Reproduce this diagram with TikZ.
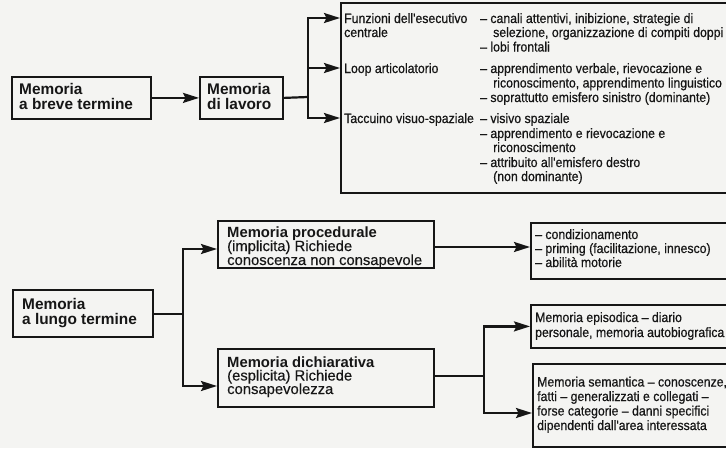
\documentclass[tikz,border=0pt]{standalone}
\usepackage{fontspec}
\setmainfont{Liberation Sans}
\newfontfamily\narrowfont[FakeStretch=0.91,FakeBold=0.6]{Liberation Sans}
\newfontfamily\plainfont[FakeBold=0.3]{Liberation Sans}
\usetikzlibrary{arrows.meta}

\definecolor{paper}{RGB}{244,244,242}
\definecolor{ink}{RGB}{22,22,22}

\tikzset{
  box/.style={draw=ink, line width=1.8pt, inner sep=0pt, anchor=north west},
  conn/.style={draw=ink, line width=2.2pt},
  arr/.style={conn, -{Stealth[length=16pt,width=10pt,inset=2.5pt]}},
  txt/.style={inner sep=0pt, anchor=base west, text=ink},
  head/.style={txt, font=\bfseries\fontsize{15.4}{16}\selectfont},
  headsm/.style={txt, font=\bfseries\fontsize{14.8}{14}\selectfont},
  body/.style={txt, font=\plainfont\fontsize{14.8}{14}\selectfont},
  note/.style={txt, font=\narrowfont\fontsize{13.5}{14}\selectfont},
}

\begin{document}
\begin{tikzpicture}[x=1pt, y=-1pt]
  \fill[paper] (0,0) rectangle (726,448);
  \useasboundingbox (0,0) rectangle (726,448);
  \clip (0,0) rectangle (726,448);

  % ---------- short-term memory ----------
  \node[box, minimum width=139pt, minimum height=42pt] (A) at (11,76) {};
  \node[head] (A1) at (19,94) {Memoria};
  \node[head] (A2) at (19,109.5) {a breve termine};

  \node[box, minimum width=83pt, minimum height=42pt] (B) at (199,76) {};
  \node[head] (B1) at (207,94) {Memoria};
  \node[head] (B2) at (207,109.5) {di lavoro};

  \node[box, minimum width=400pt, minimum height=190pt] (C) at (340,2) {};
  \node[note] (C1) at (344,23) {Funzioni dell'esecutivo};
  \node[note] (C2) at (344,37) {centrale};
  \node[note] (C3) at (344,73) {Loop articolatorio};
  \node[note] (C4) at (344,123) {Taccuino visuo-spaziale};
  \node[note] (C5) at (480,23) {– canali attentivi, inibizione, strategie di};
  \node[note] (C6) at (493,37) {selezione, organizzazione di compiti doppi};
  \node[note] (C7) at (480,51.5) {– lobi frontali};
  \node[note] (C8) at (480,73) {– apprendimento verbale, rievocazione e};
  \node[note] (C9) at (493,87.5) {riconoscimento, apprendimento linguistico};
  \node[note] (C10) at (480,102) {– soprattutto emisfero sinistro (dominante)};
  \node[note] (C11) at (480,123) {– visivo spaziale};
  \node[note] (C12) at (480,138) {– apprendimento e rievocazione e};
  \node[note] (C13) at (493,152) {riconoscimento};
  \node[note] (C14) at (480,167) {– attribuito all'emisfero destro};
  \node[note] (C15) at (493,181) {(non dominante)};

  \coordinate (j1) at (308,97);
  \coordinate (tC1) at (340,18);
  \coordinate (tC2) at (340,68);
  \coordinate (tC3) at (340,118);
  \draw[arr] (A.east) -- (B.west);
  \draw[conn] (B.east) -- (j1);
  \draw[arr] (j1) |- (tC1);
  \draw[arr] (j1) |- (tC2);
  \draw[arr] (j1) |- (tC3);

  % ---------- long-term memory ----------
  \node[box, minimum width=140pt, minimum height=47pt] (D) at (12,289) {};
  \node[head] (D1) at (22,309) {Memoria};
  \node[head] (D2) at (22,324) {a lungo termine};

  \node[box, minimum width=216pt, minimum height=47pt] (E) at (217,220) {};
  \node[headsm] (E1) at (227,237.5) {Memoria procedurale};
  \node[body] (E2) at (227,251) {(implicita) Richiede};
  \node[body] (E3) at (227,265) {conoscenza non consapevole};

  \node[box, minimum width=216pt, minimum height=58pt] (F) at (217,348) {};
  \node[headsm] (F1) at (227,367) {Memoria dichiarativa};
  \node[body] (F2) at (227,380.5) {(esplicita) Richiede};
  \node[body] (F3) at (227,394) {consapevolezza};

  \node[box, minimum width=210pt, minimum height=56pt] (G) at (530,222) {};
  \node[note] (G1) at (535,239) {– condizionamento};
  \node[note] (G2) at (535,253) {– priming (facilitazione, innesco)};
  \node[note] (G3) at (535,267) {– abilità motorie};

  \node[box, minimum width=210pt, minimum height=43pt] (H) at (530,304) {};
  \node[note] (H1) at (535,322) {Memoria episodica – diario};
  \node[note] (H2) at (535,337) {personale, memoria autobiografica};

  \node[box, minimum width=210pt, minimum height=83pt] (I) at (532,363) {};
  \node[note] (I1) at (537,386.5) {Memoria semantica – conoscenze,};
  \node[note] (I2) at (537,401) {fatti – generalizzati e collegati –};
  \node[note] (I3) at (537,415.5) {forse categorie – danni specifici};
  \node[note] (I4) at (537,430) {dipendenti dall'area interessata};

  \coordinate (j2) at (183,314);
  \coordinate (tE) at (217,249);
  \coordinate (tF) at (217,386);
  \draw[conn] (D.east |- j2) -- (j2);
  \draw[arr] (j2) |- (tE);
  \draw[arr] (j2) |- (tF);

  \coordinate (oE) at (433,247);
  \draw[arr] (oE) -- (G.west |- oE);

  \coordinate (j3) at (484,376);
  \coordinate (tI) at (532,413);
  \draw[conn] (F.east |- j3) -- (j3);
  \draw[arr] (j3) |- (H.west);
  \draw[arr] (j3) |- (tI);
\end{tikzpicture}
\end{document}
